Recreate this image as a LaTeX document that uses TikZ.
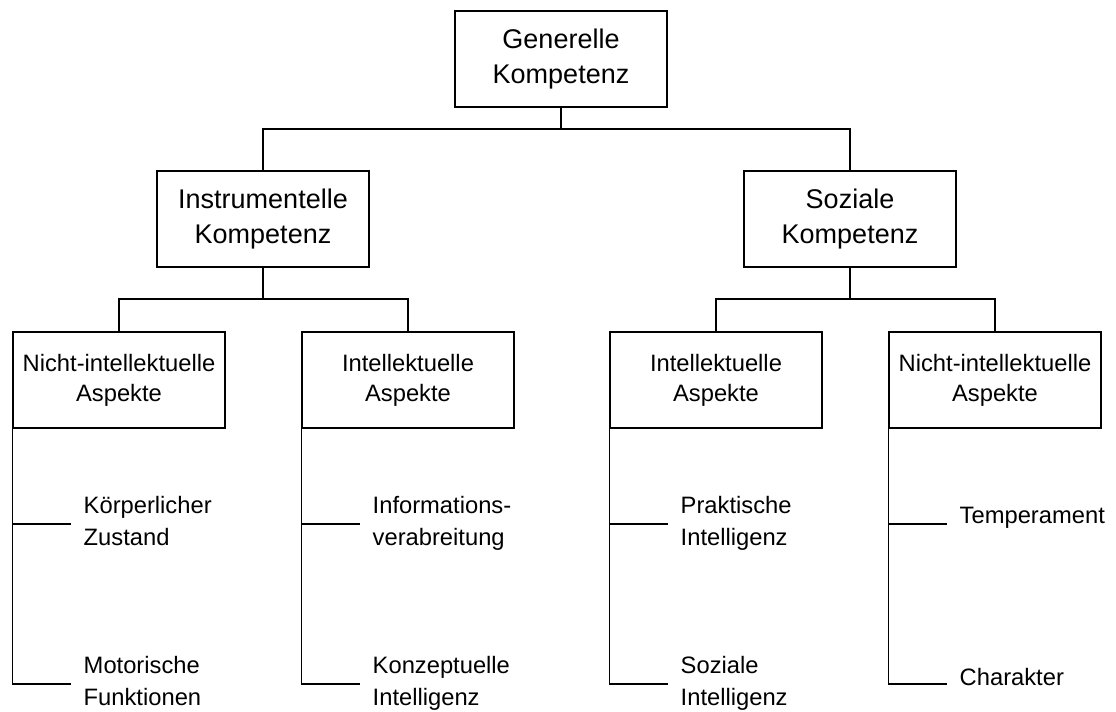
\documentclass[tikz,border=0pt]{standalone}
\usepackage{fontspec}
\setmainfont{Liberation Sans}
\begin{document}
\begin{tikzpicture}[x=0.75pt,y=-0.75pt,
  line width=1.1pt,
  topbox/.style={draw, line width=1.1pt, minimum width=159pt, minimum height=72pt,
    inner sep=0pt, align=center, font=\fontsize{20.25}{26.25}\selectfont},
  aspbox/.style={topbox, font=\fontsize{17.8}{22.5}\selectfont},
  leaf/.style={anchor=north west, inner sep=0pt, align=left,
    font=\fontsize{17.8}{24}\selectfont},
  link/.style={line width=1.1pt}]
\useasboundingbox (0,0) rectangle (1116,711);

% competence boxes
\node[topbox] (gen)  at (561,59)  {Generelle\\Kompetenz};
\node[topbox] (inst) at (263,219) {Instrumentelle\\Kompetenz};
\node[topbox] (soz)  at (850,219) {Soziale\\Kompetenz};

% aspect boxes
\node[aspbox] (a1) at (119,380) {Nicht-intellektuelle\\Aspekte};
\node[aspbox] (a2) at (408,380) {Intellektuelle\\Aspekte};
\node[aspbox] (a3) at (716,380) {Intellektuelle\\Aspekte};
\node[aspbox] (a4) at (995,380) {Nicht-intellektuelle\\Aspekte};

% leaf labels
\node[leaf] (l11) at (83,496)  {Körperlicher\\Zustand};
\node[leaf] (l12) at (83,656)  {Motorische\\Funktionen};
\node[leaf] (l21) at (372,496) {Informations-\\verabreitung};
\node[leaf] (l22) at (372,656) {Konzeptuelle\\Intelligenz};
\node[leaf] (l31) at (680,496) {Praktische\\Intelligenz};
\node[leaf] (l32) at (680,656) {Soziale\\Intelligenz};
\node[leaf] (l41) at (959,506) {Temperament};
\node[leaf] (l42) at (959,668) {Charakter};

% tick ends in front of the leaf labels
\coordinate (t11) at (71,524);  \coordinate (t12) at (71,684);
\coordinate (t21) at (360,524); \coordinate (t22) at (360,684);
\coordinate (t31) at (668,524); \coordinate (t32) at (668,684);
\coordinate (t41) at (947,524); \coordinate (t42) at (947,684);

% junctions of the tree
\coordinate (j0) at (561,129);
\coordinate (j1) at (263,299);
\coordinate (j2) at (850,299);

\draw[link] (gen.south) -- (j0);
\draw[link] (inst.north) |- (j0) -| (soz.north);
\draw[link] (inst.south) -- (j1);
\draw[link] (a1.north) |- (j1) -| (a2.north);
\draw[link] (soz.south) -- (j2);
\draw[link] (a3.north) |- (j2) -| (a4.north);

% leaf brackets
\foreach \a/\t in {a1/t1, a2/t2, a3/t3, a4/t4}{
  \draw[link] (\a.south west) |- (\t1);
  \draw[link] (\a.south west) |- (\t2);
}
\end{tikzpicture}
\end{document}
